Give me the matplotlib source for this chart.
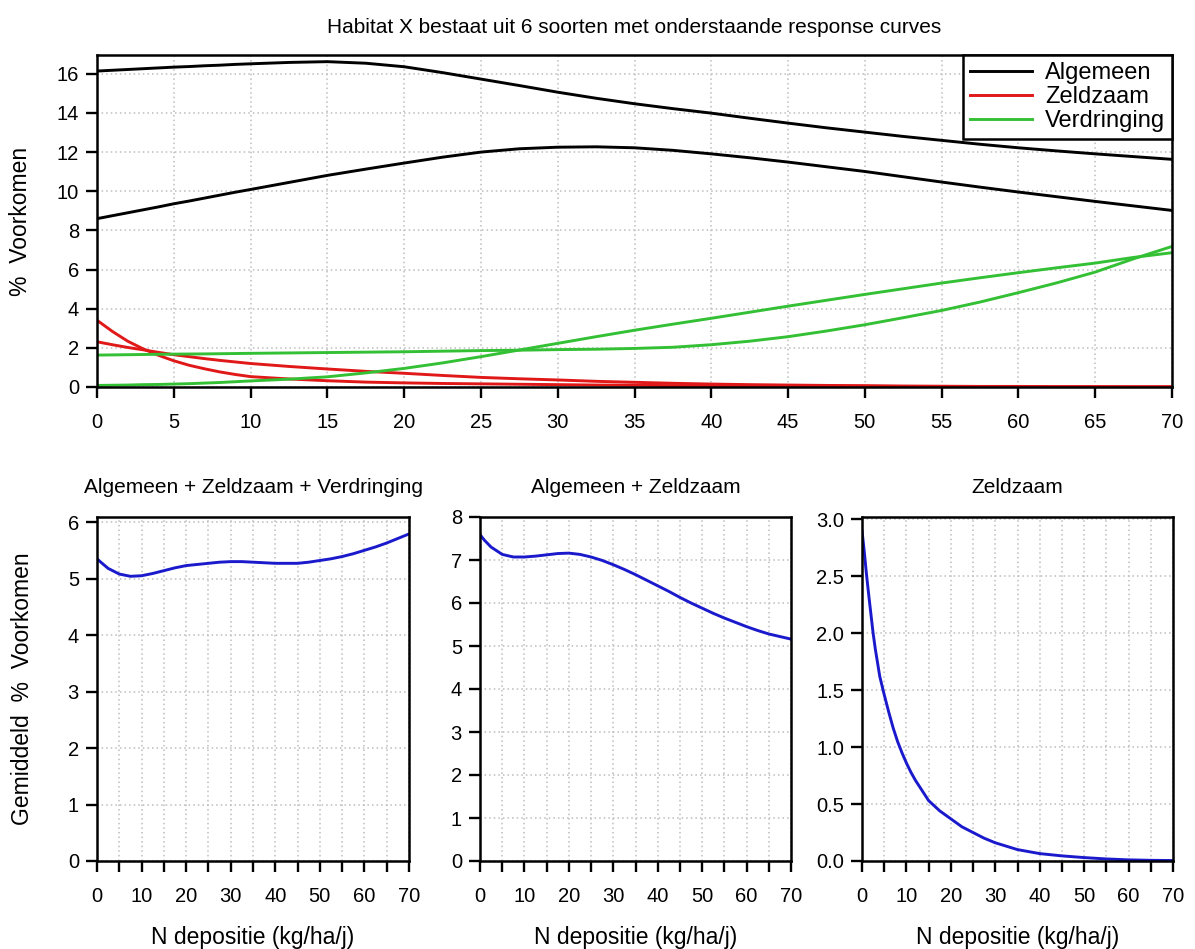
import matplotlib
matplotlib.use("Agg")
import matplotlib.pyplot as plt
from matplotlib.ticker import MultipleLocator, FuncFormatter

plt.rcParams['font.family'] = ['Liberation Sans', 'DejaVu Sans']

# ---------------- data ----------------
x_top = [0, 1, 2, 3, 4, 5, 6, 7, 8, 9, 10, 12.5, 15, 17.5, 20, 22.5, 25, 27.5, 30,
         32.5, 35, 37.5, 40, 42.5, 45, 47.5, 50, 52.5, 55, 57.5, 60, 62.5, 65,
         67.5, 70]

algemeen_1 = [16.14, 16.18, 16.22, 16.26, 16.30, 16.34, 16.37, 16.41, 16.44, 16.48,
              16.51, 16.58, 16.62, 16.54, 16.36, 16.06, 15.73, 15.40, 15.06, 14.75,
              14.47, 14.22, 13.99, 13.73, 13.48, 13.24, 13.02, 12.80, 12.60, 12.40,
              12.22, 12.06, 11.91, 11.77, 11.63]
algemeen_2 = [8.60, 8.75, 8.90, 9.05, 9.20, 9.36, 9.50, 9.65, 9.80, 9.95,
              10.09, 10.45, 10.81, 11.13, 11.44, 11.74, 12.00, 12.17, 12.25, 12.27,
              12.22, 12.09, 11.91, 11.71, 11.49, 11.25, 11.01, 10.74, 10.47, 10.21,
              9.96, 9.72, 9.48, 9.25, 9.02]
zeldzaam_1 = [3.41, 2.84, 2.34, 1.95, 1.62, 1.34, 1.11, 0.93, 0.77, 0.64,
              0.53, 0.41, 0.32, 0.25, 0.21, 0.18, 0.16, 0.14, 0.12, 0.10,
              0.09, 0.07, 0.06, 0.05, 0.04, 0.03, 0.03, 0.02, 0.02, 0.01,
              0.01, 0.01, 0.01, 0.01, 0.01]
zeldzaam_2 = [2.31, 2.16, 2.02, 1.90, 1.77, 1.65, 1.55, 1.45, 1.36, 1.28,
              1.20, 1.05, 0.92, 0.80, 0.70, 0.59, 0.49, 0.42, 0.36, 0.29,
              0.24, 0.19, 0.15, 0.12, 0.10, 0.08, 0.07, 0.05, 0.04, 0.03,
              0.03, 0.02, 0.02, 0.01, 0.01]
verdringing_1 = [1.63, 1.64, 1.65, 1.66, 1.67, 1.68, 1.685, 1.69, 1.70, 1.71,
                 1.72, 1.74, 1.76, 1.78, 1.80, 1.83, 1.86, 1.88, 1.91, 1.93,
                 1.97, 2.03, 2.16, 2.34, 2.57, 2.86, 3.18, 3.54, 3.91, 4.34,
                 4.82, 5.32, 5.87, 6.55, 7.18]
verdringing_2 = [0.08, 0.09, 0.10, 0.12, 0.13, 0.15, 0.17, 0.20, 0.23, 0.27,
                 0.31, 0.40, 0.52, 0.72, 0.95, 1.23, 1.55, 1.89, 2.23, 2.57,
                 2.90, 3.21, 3.51, 3.82, 4.13, 4.43, 4.73, 5.02, 5.31, 5.58,
                 5.84, 6.09, 6.33, 6.62, 6.86]

x_avg = [0, 1, 2.5, 5, 7.5, 10, 12.5, 15, 17.5, 20, 22.5, 25, 27.5, 30, 32.5,
         35, 37.5, 40, 42.5, 45, 47.5, 50, 52.5, 55, 57.5, 60, 62.5, 65, 67.5, 70]
gem_alle = [5.35, 5.28, 5.18, 5.08, 5.04, 5.05, 5.09, 5.14, 5.19, 5.23, 5.25,
            5.27, 5.29, 5.30, 5.30, 5.29, 5.28, 5.27, 5.27, 5.27, 5.29, 5.32,
            5.35, 5.39, 5.44, 5.50, 5.56, 5.63, 5.71, 5.79]
gem_alg_zeld = [7.59, 7.46, 7.30, 7.13, 7.07, 7.07, 7.09, 7.12, 7.15, 7.16, 7.13,
                7.07, 6.99, 6.89, 6.78, 6.66, 6.53, 6.40, 6.27, 6.13, 6.00, 5.88,
                5.76, 5.65, 5.55, 5.45, 5.36, 5.28, 5.22, 5.16]

x_zeld = [0, 0.5, 1, 1.5, 2, 2.5, 3, 3.5, 4, 5, 6, 7, 8, 9, 10, 11, 12, 13.5,
          15, 17.5, 20, 22.5, 25, 27.5, 30, 35, 40, 45, 50, 55, 60, 65, 70]
gem_zeld = [2.90, 2.72, 2.52, 2.34, 2.17, 2.00, 1.86, 1.74, 1.62, 1.46, 1.31,
            1.17, 1.05, 0.95, 0.86, 0.78, 0.71, 0.62, 0.53, 0.44, 0.37, 0.30,
            0.25, 0.20, 0.16, 0.10, 0.065, 0.045, 0.03, 0.018, 0.01, 0.006, 0.004]

legend_labels = ['Algemeen', 'Zeldzaam', 'Verdringing']
top_title = 'Habitat X bestaat uit 6 soorten met onderstaande response curves'
panel_titles = ['Algemeen + Zeldzaam + Verdringing', 'Algemeen + Zeldzaam', 'Zeldzaam']

# ---------------- styling ----------------
BLACK, RED, GREEN, BLUE = '#000000', '#e01818', '#34c034', '#1a1acc'
LW = 2.1
TICK_FS = 14.5
LABEL_FS = 16.5
TITLE_FS = 15

W, H = 1195, 949
fig = plt.figure(figsize=(W / 100, H / 100), dpi=100)


def rect(l, r, t, b):
    return [l / W, (H - b) / H, (r - l) / W, (b - t) / H]


def style(ax, xmax, ymax):
    ax.set_xlim(0, xmax)
    ax.set_ylim(0, ymax)
    for s in ax.spines.values():
        s.set_linewidth(1.8)
    ax.tick_params(axis='both', direction='out', length=8, width=1.7,
                   labelsize=TICK_FS, color='black')
    ax.tick_params(axis='x', pad=11)
    ax.tick_params(axis='y', pad=5)
    ax.grid(True, color='#bdbdbd', linestyle=(0, (1, 2)), linewidth=1.1)
    ax.set_axisbelow(True)


# ---- top panel ----
ax = fig.add_axes(rect(97, 1172, 55, 387))
style(ax, 70, 16.96)
ax.xaxis.set_major_locator(MultipleLocator(5))
ax.yaxis.set_major_locator(MultipleLocator(2))
ax.plot(x_top, algemeen_1, color=BLACK, lw=LW, label=legend_labels[0])
ax.plot(x_top, algemeen_2, color=BLACK, lw=LW)
ax.plot(x_top, zeldzaam_1, color=RED, lw=LW, label=legend_labels[1])
ax.plot(x_top, zeldzaam_2, color=RED, lw=LW)
ax.plot(x_top, verdringing_1, color=GREEN, lw=LW, label=legend_labels[2])
ax.plot(x_top, verdringing_2, color=GREEN, lw=LW)
ax.set_ylabel('%  Voorkomen', fontsize=LABEL_FS, labelpad=18)
ax.set_title(top_title, fontsize=TITLE_FS, pad=16)
leg = ax.legend(loc='upper right', borderaxespad=0, fancybox=False,
                fontsize=17, handlelength=2.6, handletextpad=0.55,
                labelspacing=0.09, borderpad=0.3, framealpha=1)
leg.get_frame().set_edgecolor('black')
leg.get_frame().set_linewidth(1.8)

# ---- bottom panels ----
panels = [
    (rect(97, 409, 517, 861), x_avg, gem_alle, 6.09, 1, '{:.0f}'),
    (rect(480, 791, 517, 861), x_avg, gem_alg_zeld, 8.0, 1, '{:.0f}'),
    (rect(862, 1173, 517, 861), x_zeld, gem_zeld, 3.02, 0.5, '{:.1f}'),
]
for i, (r, xs, ys, ymax, ystep, fmt) in enumerate(panels):
    a = fig.add_axes(r)
    style(a, 70, ymax)
    a.xaxis.set_major_locator(MultipleLocator(5))
    a.xaxis.set_major_formatter(FuncFormatter(
        lambda v, p: '{:.0f}'.format(v) if abs(v % 10) < 1e-6 else ''))
    a.yaxis.set_major_locator(MultipleLocator(ystep))
    a.yaxis.set_major_formatter(FuncFormatter(lambda v, p, f=fmt: f.format(v)))
    a.plot(xs, ys, color=BLUE, lw=LW)
    a.set_title(panel_titles[i], fontsize=TITLE_FS, pad=17)
    a.set_xlabel('N depositie (kg/ha/j)', fontsize=LABEL_FS, labelpad=14)
    if i == 0:
        a.set_ylabel('Gemiddeld  %  Voorkomen', fontsize=LABEL_FS, labelpad=24)

fig.savefig('out.png', dpi=100)
